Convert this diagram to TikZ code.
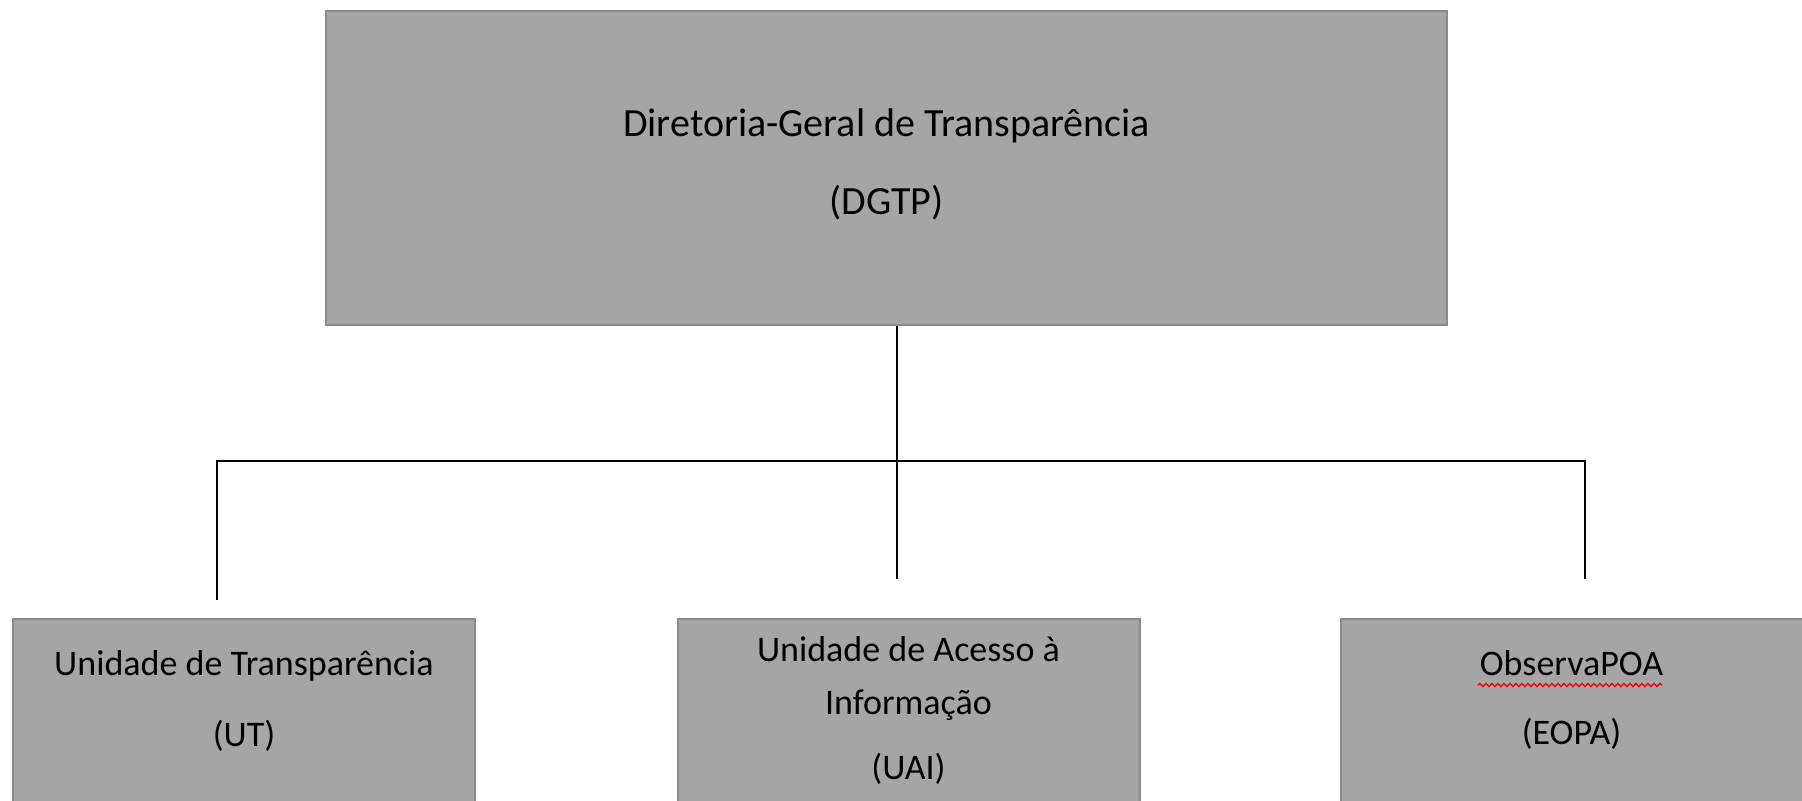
\documentclass[tikz,border=0pt]{standalone}
\usepackage{fontspec}
\setmainfont{Carlito}
\usetikzlibrary{positioning,decorations.pathmorphing}
\definecolor{boxgray}{HTML}{A5A5A5}
\definecolor{edgegray}{HTML}{8A8A8A}
\tikzset{
  unitbox/.style={draw=edgegray,line width=1pt,fill=boxgray,inner sep=0pt,
    minimum width=231pt,minimum height=95.5pt},
  unitlbl/.style={align=center,inner sep=0pt,font=\fontsize{18}{22}\selectfont},
  link/.style={line width=1pt,black}
}
\begin{document}
\begin{tikzpicture}[x=0.5pt,y=-0.5pt]
  \clip (0,0) rectangle (1802,800);
  \useasboundingbox (0,0) rectangle (1802,800);
  %% Diretoria
  \node[unitbox,minimum width=560.5pt,minimum height=157pt] (dgtp) at (886.5,168) {};
  \node[unitlbl,font=\fontsize{20}{24}\selectfont,below=49.2pt of dgtp.north] (dgtplbl)
    {Diretoria-Geral de Transparência\\[15pt](DGTP)};
  %% Unidades
  \node[unitbox] (ut) at (244,714.5) {};
  \node[unitbox] (uai) at (908.5,714.5) {};
  \node[unitbox] (eopa) at (1571.5,714.5) {};
  \node[unitlbl,below=16.2pt of ut.north] (utlbl)
    {Unidade de Transparência\\[13.5pt](UT)};
  \node[unitlbl,below=9.2pt of uai.north] (uailbl)
    {Unidade de Acesso à\\[4.5pt]Informação\\[10.5pt](UAI)};
  \node[unitlbl,below=16pt of eopa.north] (eopalbl)
    {ObservaPOA\\[12.5pt](EOPA)};
  %% spell-check mark
  \draw[red,line width=0.7pt,decorate,decoration={snake,amplitude=0.8pt,segment length=3pt}]
    (1478,685) -- (1662,685);
  %% connectors
  \coordinate (hub) at (897,461);
  \coordinate (utend) at (217,600);
  \coordinate (uaiend) at (897,579);
  \coordinate (eopaend) at (1585,579);
  \draw[link] (dgtp.south -| hub) -- (uaiend);
  \draw[link] (utend) |- (hub) -| (eopaend);
\end{tikzpicture}
\end{document}
